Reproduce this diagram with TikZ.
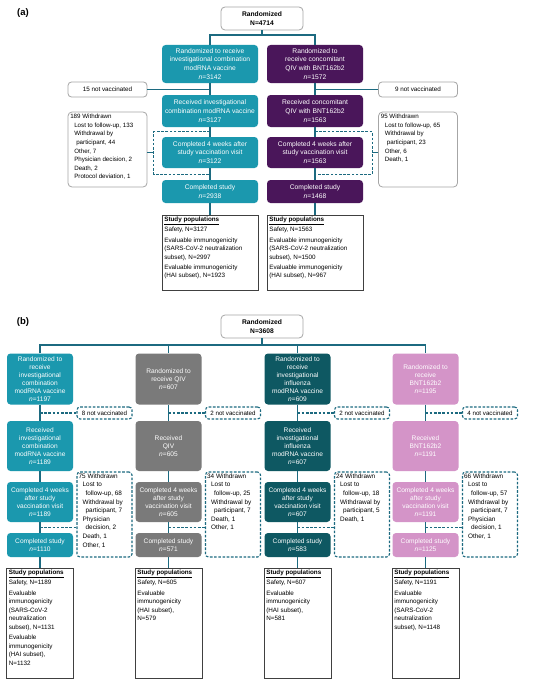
\documentclass[tikz,border=0pt]{standalone}
\usepackage{fontspec}
\setmainfont{Liberation Sans}
\usetikzlibrary{positioning, calc}

\definecolor{tealA}{RGB}{27,152,174}
\definecolor{purpA}{RGB}{74,22,90}
\definecolor{grayB}{RGB}{122,122,122}
\definecolor{darkB}{RGB}{14,88,98}
\definecolor{pinkB}{RGB}{212,148,200}
\definecolor{lineC}{RGB}{28,106,128}

\begin{document}
\begin{tikzpicture}[x=1pt, y=-1pt,
    link/.style={draw=lineC, line width=1.1pt},
    dlink/.style={draw=lineC, line width=1.1pt, dash pattern=on 2.6pt off 1.6pt},
    boxa/.style={rounded corners=3.5pt, inner sep=1pt, align=center, text=white, minimum width=96pt, font=\fontsize{6.7}{8.8}\selectfont},
    boxb/.style={rounded corners=3.5pt, inner sep=1pt, align=center, text=white, minimum width=66pt, font=\fontsize{6.6}{8}\selectfont},
    randbox/.style={draw=gray!70, line width=0.8pt, fill=white, rounded corners=4pt, minimum width=82pt, minimum height=23pt, align=center, inner sep=1pt, font=\fontsize{6.7}{8.4}\selectfont\bfseries},
    nvbox/.style={draw=gray!70, line width=0.8pt, fill=white, rounded corners=3.5pt, minimum width=79pt, minimum height=15pt, inner sep=1pt, font=\fontsize{6.3}{7.5}\selectfont},
    dnvbox/.style={dlink, fill=white, rounded corners=3pt, minimum width=55pt, minimum height=12pt, inner sep=1pt, font=\fontsize{6.2}{7.2}\selectfont},
    wdbox/.style={draw=gray!70, line width=0.8pt, rounded corners=4pt},
    dwdbox/.style={dlink, rounded corners=3pt},
    popbox/.style={draw=black!75, line width=0.8pt},
    wdtext/.style={anchor=north west, align=left, inner sep=2.5pt, font=\fontsize{6.2}{8.6}\selectfont},
    wdtextb/.style={anchor=north west, align=left, inner sep=2pt, font=\fontsize{6.4}{8.6}\selectfont},
    poptext/.style={anchor=north west, align=left, inner sep=2.5pt, font=\fontsize{6.3}{8.6}\selectfont},
    lab/.style={font=\fontsize{9.5}{11}\selectfont\bfseries}
]
\fill[white] (0,0) rectangle (550,685);
\useasboundingbox (0,0) rectangle (550,685);

% ---------- (a) ----------
\node[lab] (laba) at (23,13) {(a)};
\node[randbox] (randa) at (262,18.5) {Randomized\\N=4714};

\node[boxa, fill=tealA, minimum height=38pt] (a1c) at (210,64) {Randomized to receive\\investigational combination\\modRNA vaccine\\\textit{n}=3142};
\node[boxa, fill=purpA, minimum height=38pt] (a1p) at (315,64) {Randomized to\\receive concomitant\\QIV with BNT162b2\\\textit{n}=1572};
\node[boxa, fill=tealA, minimum height=32pt] (a2c) at (210,111) {Received investigational\\combination modRNA vaccine\\\textit{n}=3127};
\node[boxa, fill=purpA, minimum height=32pt] (a2p) at (315,111) {Received concomitant\\QIV with BNT162b2\\\textit{n}=1563};
\node[boxa, fill=tealA, minimum height=31pt] (a3c) at (210,152.5) {Completed 4 weeks after\\study vaccination visit\\\textit{n}=3122};
\node[boxa, fill=purpA, minimum height=31pt] (a3p) at (315,152.5) {Completed 4 weeks after\\study vaccination visit\\\textit{n}=1563};
\node[boxa, fill=tealA, minimum height=23pt] (a4c) at (210,191.5) {Completed study\\\textit{n}=2938};
\node[boxa, fill=purpA, minimum height=23pt] (a4p) at (315,191.5) {Completed study\\\textit{n}=1468};

\node[popbox, minimum width=96pt, minimum height=75pt] (apc) at (210,252.5) {};
\node[poptext] (apct) at (apc.north west) {\underline{\textbf{Study populations}}\\[1.5pt]Safety, N=3127\\[1.5pt]Evaluable immunogenicity\\(SARS-CoV-2 neutralization\\subset), N=2997\\[1.5pt]Evaluable immunogenicity\\(HAI subset), N=1923};
\node[popbox, minimum width=96pt, minimum height=75pt] (app) at (315,252.5) {};
\node[poptext] (appt) at (app.north west) {\underline{\textbf{Study populations}}\\[1.5pt]Safety, N=1563\\[1.5pt]Evaluable immunogenicity\\(SARS-CoV-2 neutralization\\subset), N=1500\\[1.5pt]Evaluable immunogenicity\\(HAI subset), N=967};

\node[nvbox] (anvc) at (107.5,89.5) {15 not vaccinated};
\node[nvbox] (anvp) at (418,89.5) {9 not vaccinated};

\node[wdbox, minimum width=79pt, minimum height=75pt] (awc) at (107.5,149.5) {};
\node[wdtext] (awct) at (awc.north west) {189 Withdrawn\\\hspace*{4pt}Lost to follow-up, 133\\\hspace*{4pt}Withdrawal by\\\hspace*{6pt}participant, 44\\\hspace*{4pt}Other, 7\\\hspace*{4pt}Physician decision, 2\\\hspace*{4pt}Death, 2\\\hspace*{4pt}Protocol deviation, 1};
\node[wdbox, minimum width=79pt, minimum height=75pt] (awp) at (418,149.5) {};
\node[wdtext] (awpt) at (awp.north west) {95 Withdrawn\\\hspace*{4pt}Lost to follow-up, 65\\\hspace*{4pt}Withdrawal by\\\hspace*{6pt}participant, 23\\\hspace*{4pt}Other, 6\\\hspace*{4pt}Death, 1};

\coordinate (splita) at (262,35);
\draw[link] (randa) -- (splita);
\draw[link] (a1c.north) |- (splita) -| (a1p.north);
\foreach \c in {c,p} {
  \draw[link] (a1\c) -- (a2\c);
  \draw[link] (a2\c) -- (a3\c);
  \draw[link] (a3\c) -- (a4\c);
  \draw[link] (a4\c) -- (ap\c);
}
\draw[link] (anvc.east) -- (anvc.east -| a1c.south);
\draw[link] (anvp.west) -- (anvp.west -| a1p.south);
\draw[dlink] ($(a3c.north)+(0,-5)$) -| ($(a3c.south west)+(-8,6)$) -- ($(a3c.south)+(0,6)$);
\draw[dlink] ($(a3p.north)+(0,-5)$) -| ($(a3p.south east)+(9,6)$) -- ($(a3p.south)+(0,6)$);
\draw[link] (awc.east |- a3c.west) -- ($(a3c.west)+(-8,0)$);
\draw[link] (awp.west |- a3p.east) -- ($(a3p.east)+(9,0)$);

% ---------- (b) ----------
\node[lab] (labb) at (23,322) {(b)};
\node[randbox] (randb) at (262,326.5) {Randomized\\N=3608};

\node[boxb, fill=tealA, minimum height=51pt] (b1a) at (40,379) {Randomized to\\receive\\investigational\\combination\\modRNA vaccine\\\textit{n}=1197};
\node[boxb, fill=grayB, minimum height=51pt] (b2a) at (168.5,379) {Randomized to\\receive QIV\\\textit{n}=607};
\node[boxb, fill=darkB, minimum height=51pt] (b3a) at (297.5,379) {Randomized to\\receive\\investigational\\influenza\\modRNA vaccine\\\textit{n}=609};
\node[boxb, fill=pinkB, minimum height=51pt] (b4a) at (425.5,379) {Randomized to\\receive\\BNT162b2\\\textit{n}=1195};

\node[boxb, fill=tealA, minimum height=50pt] (b1b) at (40,446) {Received\\investigational\\combination\\modRNA vaccine\\\textit{n}=1189};
\node[boxb, fill=grayB, minimum height=50pt] (b2b) at (168.5,446) {Received\\QIV\\\textit{n}=605};
\node[boxb, fill=darkB, minimum height=50pt] (b3b) at (297.5,446) {Received\\investigational\\influenza\\modRNA vaccine\\\textit{n}=607};
\node[boxb, fill=pinkB, minimum height=50pt] (b4b) at (425.5,446) {Received\\BNT162b2\\\textit{n}=1191};

\node[boxb, fill=tealA, minimum height=40pt] (b1c) at (40,502) {Completed 4 weeks\\after study\\vaccination visit\\\textit{n}=1189};
\node[boxb, fill=grayB, minimum height=40pt] (b2c) at (168.5,502) {Completed 4 weeks\\after study\\vaccination visit\\\textit{n}=605};
\node[boxb, fill=darkB, minimum height=40pt] (b3c) at (297.5,502) {Completed 4 weeks\\after study\\vaccination visit\\\textit{n}=607};
\node[boxb, fill=pinkB, minimum height=40pt] (b4c) at (425.5,502) {Completed 4 weeks\\after study\\vaccination visit\\\textit{n}=1191};

\node[boxb, fill=tealA, minimum height=24pt] (b1d) at (40,545) {Completed study\\\textit{n}=1110};
\node[boxb, fill=grayB, minimum height=24pt] (b2d) at (168.5,545) {Completed study\\\textit{n}=571};
\node[boxb, fill=darkB, minimum height=24pt] (b3d) at (297.5,545) {Completed study\\\textit{n}=583};
\node[boxb, fill=pinkB, minimum height=24pt] (b4d) at (425.5,545) {Completed study\\\textit{n}=1125};

\node[popbox, minimum width=67pt, minimum height=110pt] (b1p) at (40,623) {};
\node[poptext] (b1pt) at (b1p.north west) {\underline{\textbf{Study populations}}\\[1.5pt]Safety, N=1189\\[1.5pt]Evaluable\\immunogenicity\\(SARS-CoV-2\\neutralization\\subset), N=1131\\[1.5pt]Evaluable\\immunogenicity\\(HAI subset),\\N=1132};
\node[popbox, minimum width=67pt, minimum height=110pt] (b2p) at (168.5,623) {};
\node[poptext] (b2pt) at (b2p.north west) {\underline{\textbf{Study populations}}\\[1.5pt]Safety, N=605\\[1.5pt]Evaluable\\immunogenicity\\(HAI subset),\\N=579};
\node[popbox, minimum width=67pt, minimum height=110pt] (b3p) at (297.5,623) {};
\node[poptext] (b3pt) at (b3p.north west) {\underline{\textbf{Study populations}}\\[1.5pt]Safety, N=607\\[1.5pt]Evaluable\\immunogenicity\\(HAI subset),\\N=581};
\node[popbox, minimum width=67pt, minimum height=110pt] (b4p) at (425.5,623) {};
\node[poptext] (b4pt) at (b4p.north west) {\underline{\textbf{Study populations}}\\[1.5pt]Safety, N=1191\\[1.5pt]Evaluable\\immunogenicity\\(SARS-CoV-2\\neutralization\\subset), N=1148};

\node[dnvbox] (b1n) at (104.5,413) {8 not vaccinated};
\node[dnvbox] (b2n) at (233,413) {2 not vaccinated};
\node[dnvbox] (b3n) at (362,413) {2 not vaccinated};
\node[dnvbox] (b4n) at (490,413) {4 not vaccinated};

\node[dwdbox, minimum width=55pt, minimum height=85pt] (b1w) at (104.5,514.5) {};
\node[wdtextb] (b1wt) at (b1w.north west) {75 Withdrawn\\\hspace*{4pt}Lost to\\\hspace*{7pt}follow-up, 68\\\hspace*{4pt}Withdrawal by\\\hspace*{7pt}participant, 7\\\hspace*{4pt}Physician\\\hspace*{7pt}decision, 2\\\hspace*{4pt}Death, 1\\\hspace*{4pt}Other, 1};
\node[dwdbox, minimum width=55pt, minimum height=85pt] (b2w) at (233,514.5) {};
\node[wdtextb] (b2wt) at (b2w.north west) {34 Withdrawn\\\hspace*{4pt}Lost to\\\hspace*{7pt}follow-up, 25\\\hspace*{4pt}Withdrawal by\\\hspace*{7pt}participant, 7\\\hspace*{4pt}Death, 1\\\hspace*{4pt}Other, 1};
\node[dwdbox, minimum width=55pt, minimum height=85pt] (b3w) at (362,514.5) {};
\node[wdtextb] (b3wt) at (b3w.north west) {24 Withdrawn\\\hspace*{4pt}Lost to\\\hspace*{7pt}follow-up, 18\\\hspace*{4pt}Withdrawal by\\\hspace*{7pt}participant, 5\\\hspace*{4pt}Death, 1};
\node[dwdbox, minimum width=55pt, minimum height=85pt] (b4w) at (490,514.5) {};
\node[wdtextb] (b4wt) at (b4w.north west) {66 Withdrawn\\\hspace*{4pt}Lost to\\\hspace*{7pt}follow-up, 57\\\hspace*{4pt}Withdrawal by\\\hspace*{7pt}participant, 7\\\hspace*{4pt}Physician\\\hspace*{7pt}decision, 1\\\hspace*{4pt}Other, 1};

\coordinate (splitb) at (262,345);
\draw[link] (randb) -- (splitb);
\draw[link] (b1a.north) |- (splitb) -| (b4a.north);
\draw[link] (b2a.north) -- (b2a.north |- splitb);
\draw[link] (b3a.north) -- (b3a.north |- splitb);
\foreach \i in {1,2,3,4} {
  \draw[link] (b\i a) -- (b\i b);
  \draw[link] (b\i b) -- (b\i c);
  \draw[link] (b\i c) -- (b\i d);
  \draw[link] (b\i d) -- (b\i p);
  \draw[dlink] (b\i n.west -| b\i a.south) -- (b\i n.west);
  \coordinate (wj\i) at ($(b\i c.south)!0.5!(b\i d.north)$);
  \draw[dlink] (wj\i) -- (wj\i -| b\i w.west);
}
\end{tikzpicture}
\end{document}
